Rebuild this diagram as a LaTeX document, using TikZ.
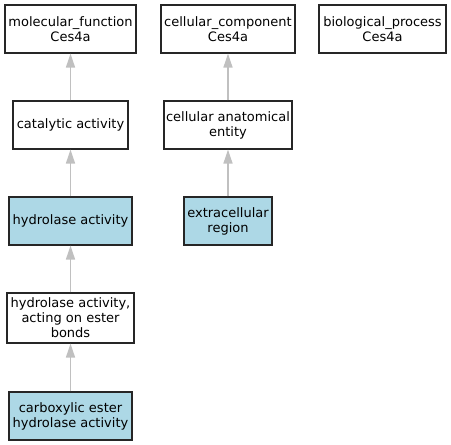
\documentclass[tikz,border=0pt]{standalone}
\usepackage{fontspec}
\setmainfont{DejaVu Sans}
\usetikzlibrary{arrows.meta}
\definecolor{GOHit}{RGB}{173,216,230}
\definecolor{GOEdge}{RGB}{192,192,192}

\begin{document}
\begin{tikzpicture}[x=1pt,y=-1pt,font=\fontsize{13}{15}\selectfont,
  term/.style={draw=black!85,line width=1.1pt,fill=white,align=center,inner sep=0pt,minimum height=48pt},
  hit/.style={term,fill=GOHit},
  isa/.style={draw=GOEdge,line width=1.4pt,-{Triangle[width=9pt,length=14pt]}}]
  \useasboundingbox (0,0) rectangle (451,445);

  % top row: the three roots
  \node[term,minimum width=131pt] (mf) at (70.5,29) {molecular\_function\\Ces4a};
  \node[term,minimum width=134pt] (cc) at (228,29) {cellular\_component\\Ces4a};
  \node[term,minimum width=127pt] (bp) at (382.5,29) {biological\_process\\Ces4a};

  \node[term,minimum width=115pt] (ca) at (70.5,125) {catalytic activity};
  \node[term,minimum width=128pt] (cae) at (228,125) {cellular anatomical\\entity};

  \node[hit,minimum width=123pt] (ha) at (70.5,221) {hydrolase activity};
  \node[hit,minimum width=88pt] (er) at (228,221) {extracellular\\region};

  \node[term,minimum width=127pt,minimum height=50pt] (hae) at (70.5,318) {hydrolase activity,\\acting on ester\\bonds};
  \node[hit,minimum width=123pt] (ceh) at (70.5,416) {carboxylic ester\\hydrolase activity};

  % is_a edges
  \draw[isa] (ca) -- (mf);
  \draw[isa] (ha) -- (ca);
  \draw[isa] (hae) -- (ha);
  \draw[isa] (ceh) -- (hae);
  \draw[isa] (cae) -- (cc);
  \draw[isa] (er) -- (cae);
\end{tikzpicture}
\end{document}
